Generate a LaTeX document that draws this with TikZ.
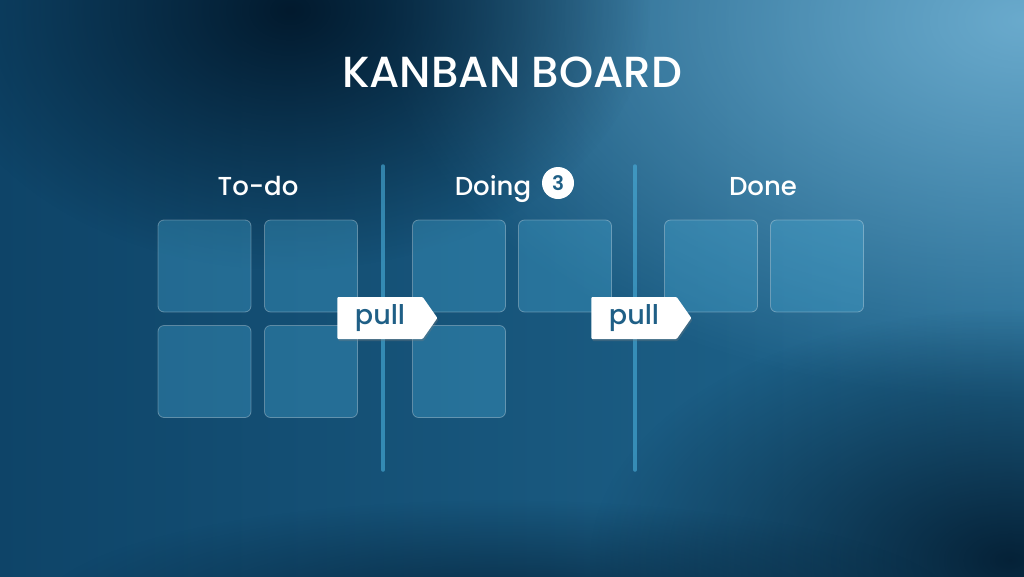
\documentclass[tikz,border=0pt]{standalone}
\usepackage{fontspec}
\setmainfont{Poppins}[UprightFont=* Medium, BoldFont=* SemiBold]
\usetikzlibrary{shapes.symbols,fadings,shadows}
\definecolor{bgdark}{HTML}{021A2E}
\definecolor{bgmid}{HTML}{216890}
\definecolor{bgleft}{HTML}{0E4468}
\definecolor{bglight}{HTML}{6EAED0}
\definecolor{cardfill}{HTML}{4AB0DC}
\definecolor{tagtext}{HTML}{1F5F86}
\tikzfading[name=glow, inner color=transparent!0, outer color=transparent!100]
\tikzset{
  card/.style={draw=white, draw opacity=0.3, fill=cardfill, fill opacity=0.32,
    rounded corners=6pt, minimum width=93pt, minimum height=92pt, line width=0.8pt},
  tag/.style={signal, signal to=east, signal pointer angle=110, fill=white,
    text=tagtext, minimum width=100pt, minimum height=42pt, inner sep=0pt,
    rounded corners=1pt, drop shadow={opacity=0.3, shadow xshift=1pt, shadow yshift=-2pt},
    font=\fontsize{27}{27}\selectfont},
  head/.style={text=white, anchor=base, font=\fontsize{26}{26}\selectfont},
  divider/.style={draw=cardfill, line width=3.5pt, line cap=round, opacity=0.6}
}
\begin{document}
\begin{tikzpicture}[x=1pt,y=-1pt]
\useasboundingbox (0,0) rectangle (1024,576);
% background
\shade[left color=bgleft, right color=bgmid] (-2,-2) rectangle (1026,578);
\fill[bglight, path fading=glow, opacity=0.95] (1024,20) ellipse (640 and 380);
\fill[bgdark, path fading=glow] (290,10) ellipse (360 and 260);
\fill[bgdark, path fading=glow, opacity=0.9] (1010,560) ellipse (420 and 250);
\fill[bgdark, path fading=glow, opacity=0.7] (500,610) ellipse (460 and 110);
% title and column heads
\node[text=white, anchor=base, font=\fontsize{43.5}{44}\selectfont] (title) at (512,87) {KANBAN BOARD};
\node[head] (todo) at (258,195) {To-do};
\node[head] (doing) at (493,195) {Doing};
\node[circle, fill=white, minimum size=32pt, inner sep=0pt, text=tagtext,
  font=\fontsize{20}{20}\selectfont\bfseries] (wip) at (558,183) {3};
\node[head] (done) at (763,195) {Done};
% dividers
\coordinate (d1a) at (383,166); \coordinate (d1b) at (383,470);
\coordinate (d2a) at (635,166); \coordinate (d2b) at (635,470);
\draw[divider] (d1a) -- (d1b);
\draw[divider] (d2a) -- (d2b);
% cards
\foreach \name/\x/\y in {t1/204.5/266, t2/311/266, t3/204.5/371.5, t4/311/371.5,
  g1/459/266, g2/565/266, g3/459/371.5, n1/711/266, n2/817/266}
  \node[card] (\name) at (\x,\y) {};
% pull tags
\node[tag] (pull1) at (380,318) {pull};
\node[tag] (pull2) at (634,318) {pull};
\end{tikzpicture}
\end{document}
